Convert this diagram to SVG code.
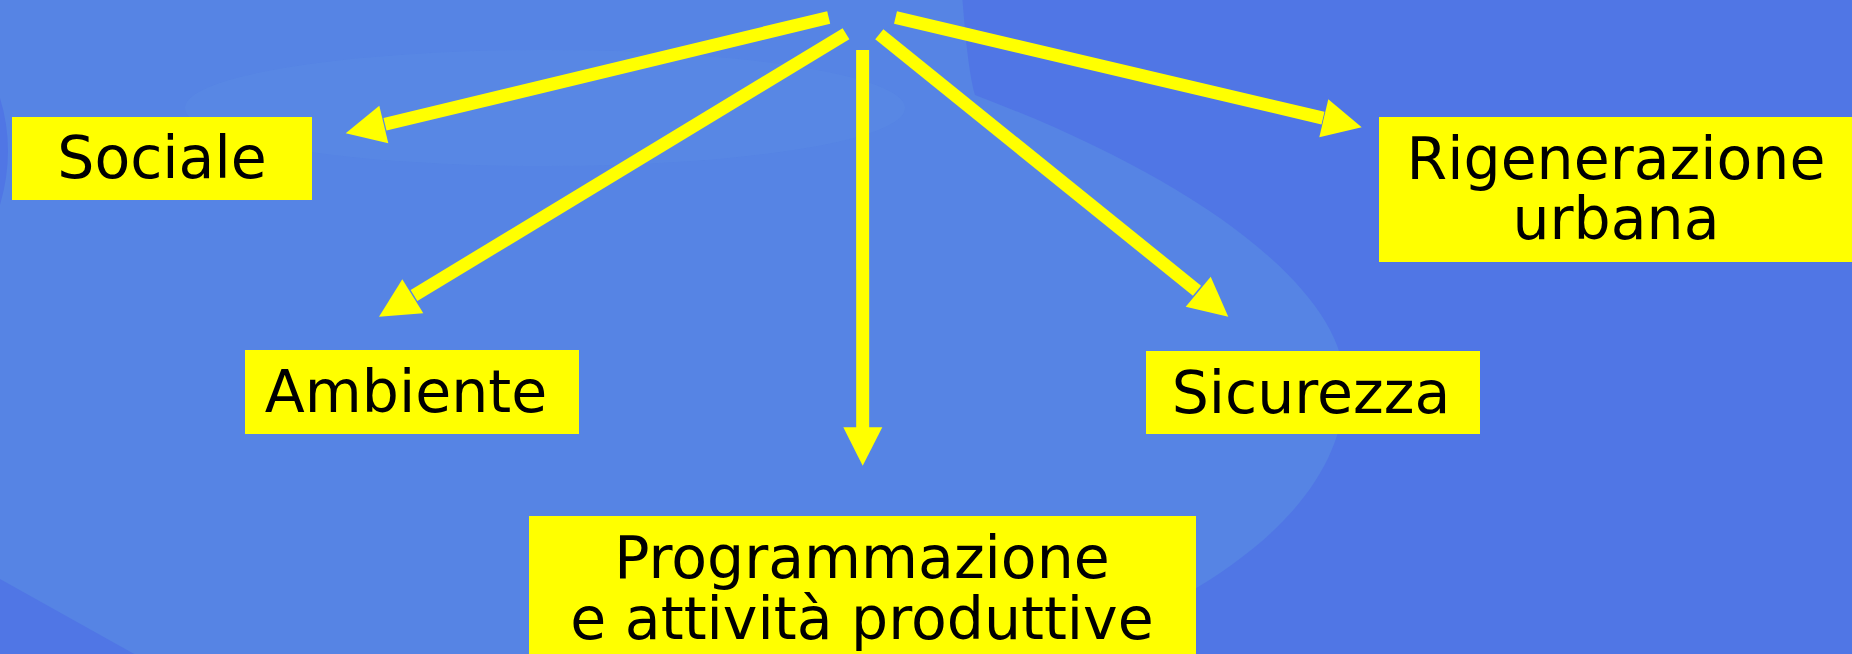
<svg xmlns="http://www.w3.org/2000/svg" width="1852" height="654" viewBox="0 0 1852 654">
<style>
.box{fill:#ffff00}
.lbl{font-family:"DejaVu Sans",Verdana,sans-serif;font-size:58.5px;fill:#000;text-anchor:middle}
.shaft{stroke:#ffff00;stroke-width:13;stroke-linecap:butt;fill:none}
.head{fill:#ffff00}
</style>
<g id="background">
<rect x="0" y="0" width="1852" height="654" fill="#5076e5"/>
<path d="M -5,-5 L 962,-5 C 965,30 968,70 975,95 C 1200,180 1345,290 1345,385 C 1345,470 1280,540 1186,594 C 1150,620 1120,640 1090,660 L 145,660 L 0,579 L 0,205 Q 16,150 0,98 Z" fill="#5684e4"/>
<ellipse cx="545" cy="108" rx="360" ry="58" fill="#5b8be4" opacity="0.45"/>
</g>
<g id="connectors">
<line class="shaft" x1="828.7" y1="17.5" x2="385" y2="124.3"/>
<polygon class="head" points="345.7,133.3 379.3,105.7 388.3,143.3"/>
<line class="shaft" x1="846" y1="33.8" x2="414" y2="295.5"/>
<polygon class="head" points="379,316.7 402.3,279.3 423.3,313.3"/>
<line class="shaft" x1="862.6" y1="50" x2="862.7" y2="428"/>
<polygon class="head" points="843.3,427.3 882.3,427.3 862.7,465.7"/>
<line class="shaft" x1="879.3" y1="34.3" x2="1197" y2="290.7"/>
<polygon class="head" points="1228.3,316.7 1210.7,276.7 1185.7,306.7"/>
<line class="shaft" x1="895.5" y1="17.5" x2="1323" y2="118.1"/>
<polygon class="head" points="1361.7,127.3 1328.3,99.3 1319.3,137.3"/>
</g>
<g id="node-sociale">
<rect class="box" x="12" y="117" width="300" height="83"/>
<text class="lbl" x="162" y="178">Sociale</text>
</g>
<g id="node-ambiente">
<rect class="box" x="245" y="350" width="334" height="84"/>
<text class="lbl" x="406" y="412">Ambiente</text>
</g>
<g id="node-programmazione">
<rect class="box" x="529" y="516" width="667" height="138"/>
<text class="lbl" x="862" y="578">Programmazione</text>
<text class="lbl" x="862" y="639">e attività produttive</text>
</g>
<g id="node-sicurezza">
<rect class="box" x="1146" y="351" width="334" height="83"/>
<text class="lbl" x="1311" y="413">Sicurezza</text>
</g>
<g id="node-rigenerazione">
<rect class="box" x="1379" y="117" width="473" height="145"/>
<text class="lbl" x="1616" y="179">Rigenerazione</text>
<text class="lbl" x="1616" y="239">urbana</text>
</g>
</svg>
